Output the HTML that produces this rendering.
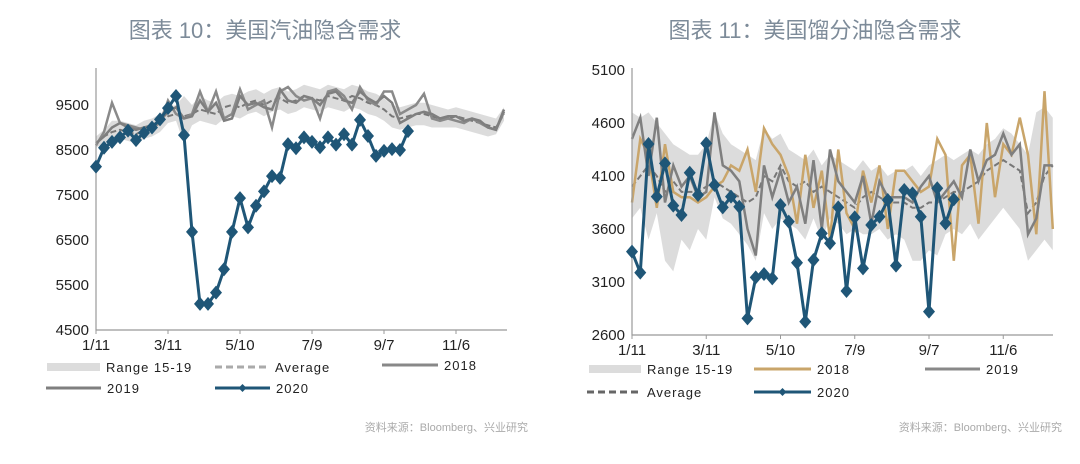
<!DOCTYPE html>
<html><head><meta charset="utf-8">
<style>
body{margin:0;background:#fff;width:1080px;height:459px;overflow:hidden;font-family:"Liberation Sans","Noto Sans CJK SC",sans-serif}
svg text{font-family:"Liberation Sans","Noto Sans CJK SC",sans-serif}
</style></head>
<body>
<svg id="svg" width="1080" height="459">
<text x="265" y="38" text-anchor="middle" font-size="22" fill="#7d8b99">图表 10：美国汽油隐含需求</text>
<text x="815" y="38" text-anchor="middle" font-size="22" fill="#7d8b99">图表 11：美国馏分油隐含需求</text>
<g id="left"></g>
<g id="right"></g>
<text x="528" y="431" text-anchor="end" font-size="11" fill="#aaa">资料来源：Bloomberg、兴业研究</text>
<text x="1062" y="431" text-anchor="end" font-size="11" fill="#aaa">资料来源：Bloomberg、兴业研究</text>
</svg>
<script>
const xTickLabels = ["1/11","3/11","5/10","7/9","9/7","11/6"];
const xTickIdx = [0,9,18,27,36,45];
const L_yTicks = [4500,5500,6500,7500,8500,9500];
const L_low = [8550,8650,8700,8750,8700,8650,8750,8800,8900,9100,9150,8650,9050,9150,9100,9050,9200,9250,9200,9300,9350,9250,9350,9400,9300,9350,9450,9400,9350,9450,9400,9350,9450,9400,9300,9250,9150,9000,8950,9000,9050,9050,9000,9000,9000,9000,8950,8900,8850,8800,8850,9150];
const L_high = [8800,8950,9150,9150,9100,9050,9150,9200,9300,9450,9500,9700,9500,9700,9600,9550,9700,9750,9700,9800,9850,9750,9850,9900,9800,9850,9950,9900,9850,9950,9900,9850,9950,9900,9800,9750,9650,9500,9450,9500,9550,9550,9500,9450,9400,9450,9400,9350,9300,9250,9200,9450];
const L_avg = [8650,8800,8900,8950,8900,8850,8950,9000,9100,9250,9300,9250,9300,9400,9350,9300,9450,9500,9450,9550,9600,9500,9600,9650,9550,9600,9700,9650,9600,9700,9650,9600,9700,9650,9550,9500,9400,9250,9200,9250,9300,9300,9250,9200,9200,9250,9200,9150,9100,9050,9000,9300];
const L_2018 = [8600,8900,9550,9100,9050,9000,8950,9000,9100,9600,9300,9200,9300,9800,9350,9800,9200,9300,9850,9400,9500,9600,9000,9800,9900,9700,9600,9650,9200,9800,9850,9700,9400,9900,9600,9500,9800,9800,9300,9400,9500,9750,9200,9150,9200,9150,9100,9200,9100,9000,8950,9350];
const L_2019 = [8650,8800,9000,9100,9000,8950,9000,9050,9150,9350,9450,9200,9250,9600,9350,9550,9150,9200,9700,9500,9550,9450,9400,9850,9600,9550,9700,9650,9500,9750,9800,9600,9550,9800,9650,9550,9700,9550,9100,9200,9300,9350,9300,9200,9250,9250,9150,9200,9150,9000,8950,9400];
const L_2020 = [8130,8550,8680,8780,8930,8720,8880,9000,9180,9430,9700,8830,6680,5080,5080,5330,5850,6680,7430,6780,7260,7580,7920,7880,8630,8540,8780,8680,8560,8780,8620,8850,8620,9170,8810,8370,8480,8520,8500,8920];

const R_yTicks = [2600,3100,3600,4100,4600,5100];
const R_low = [3700,3800,3500,3750,3300,3200,3500,3400,3600,3500,3900,3700,3650,3550,3450,3300,3750,3600,3700,3650,3600,3500,3700,3500,3700,3650,3550,3600,3550,3550,3600,3500,3550,3500,3300,3300,3400,3350,3550,3600,3550,3650,3500,3600,3700,3800,3700,3600,3300,3400,3500,3400];
const R_high = [4700,4650,4700,4600,4500,4400,4350,4300,4300,4400,4700,4500,4400,4350,4300,4250,4550,4450,4500,4350,4300,4250,4350,4200,4300,4250,4200,4150,4250,4150,4200,4100,4150,4150,4200,4100,4200,4250,4300,4250,4300,4350,4300,4400,4450,4550,4500,4400,4300,4700,4750,4650];
const R_avg = [4000,4100,4200,4100,3950,4050,3950,3950,3950,4000,4050,4000,3950,3900,3850,3900,4100,4050,4200,4050,4000,4050,3950,4000,3950,3900,3850,3800,3900,3950,3900,3850,3850,3850,3800,3800,3850,3850,3900,3950,3950,4000,4050,4150,4200,4250,4200,4150,3750,3850,4100,4200];
const R_2018 = [3850,4450,4300,3800,4400,3950,3900,3900,3850,3900,4000,4050,4200,4150,4350,3950,4550,4400,4300,4100,3650,4300,3800,4150,3500,4350,3750,3600,4150,3850,4200,3600,4150,4150,4050,3950,4000,4450,4300,3300,4200,4300,3650,4600,3900,4400,4300,4650,4300,3550,4900,3600];
const R_2019 = [4450,4650,4100,4650,3850,4200,4000,4100,3900,3950,4700,4200,4150,4050,3600,3350,4200,3900,4150,3850,4000,3650,4250,3600,4350,4050,3950,3850,4100,3650,4050,3900,3900,3900,3850,4000,4100,3850,3950,4050,3900,4350,4050,4250,4300,4500,4300,4400,3550,3700,4200,4200];
const R_2020 = [3386,3188,4402,3905,4219,3820,3732,4131,3921,4408,4015,3804,3905,3810,2757,3144,3175,3134,3826,3669,3282,2726,3307,3559,3465,3804,3015,3710,3229,3638,3716,3873,3254,3968,3936,3716,2820,3984,3653,3880];

const NS="http://www.w3.org/2000/svg";
function mk(parent,tag,attrs){const e=document.createElementNS(NS,tag);for(const k in attrs)e.setAttribute(k,attrs[k]);parent.appendChild(e);return e;}

function chart(g,cfg){
  const xs=i=>cfg.x0+i*cfg.step;
  const ys=v=>cfg.yBot-(v-cfg.yMin)/(cfg.yMax-cfg.yMin)*(cfg.yBot-cfg.yTop);
  const pts=a=>a.map((v,i)=>xs(i).toFixed(1)+","+ys(v).toFixed(1)).join(" ");
  // range band
  let poly=cfg.high.map((v,i)=>xs(i)+","+ys(v));
  poly=poly.concat(cfg.low.map((v,i)=>xs(i)+","+ys(v)).reverse());
  const band=mk(g,"polygon",{points:poly.join(" "),fill:"#dcdcdc"});
  
  
  const avg=mk(g,"polyline",{points:pts(cfg.avg),fill:"none",stroke:"#777","stroke-width":2,"stroke-dasharray":"6,3"});
  
  
  const s18=mk(g,"polyline",{points:pts(cfg.s2018),fill:"none",stroke:cfg.c2018,"stroke-width":2.5});
  
  
  const s19=mk(g,"polyline",{points:pts(cfg.s2019),fill:"none",stroke:"#7f7f7f","stroke-width":2.5});
  
  
  // axes
  const ax=mk(g,"path",{d:`M${cfg.x0},${cfg.yTop-2}V${cfg.yBot}H${cfg.xEnd}`,stroke:"#999",fill:"none","stroke-width":1.2});
  
  
  cfg.yTicks.forEach(v=>{
    const t=mk(g,"text",{x:cfg.x0-7,y:ys(v)+5,"text-anchor":"end","font-size":15,fill:"#222"});
    t.textContent=v;
    
    
  });
  xTickIdx.forEach((idx,k)=>{
    mk(g,"line",{x1:xs(idx),x2:xs(idx),y1:cfg.yBot,y2:cfg.yBot+4,stroke:"#999"});
    const t=mk(g,"text",{x:xs(idx),y:cfg.yBot+20,"text-anchor":"middle","font-size":15,fill:"#222"});
    t.textContent=xTickLabels[k];
    
    
  });
  const s20=mk(g,"polyline",{points:pts(cfg.s2020),fill:"none",stroke:"#1f5677","stroke-width":3});
  
  
  cfg.s2020.forEach((v,i)=>{
    const x=xs(i),y=ys(v);
    const d=mk(g,"polygon",{points:`${x},${y-7} ${x+6},${y} ${x},${y+7} ${x-6},${y}`,fill:"#1f5677"});
    
    
  });
}
function legend(g,items){
  items.forEach(it=>{
    const lg=mk(g,"g",{});
    
    
    if(it.t==="band") mk(lg,"rect",{x:it.x,y:it.y-4,width:it.w,height:8,fill:"#dcdcdc"});
    else {
      const a={x1:it.x,x2:it.x+it.w,y1:it.y,y2:it.y,stroke:it.c,"stroke-width":3};
      if(it.t==="dash")a["stroke-dasharray"]="7,4";
      mk(lg,"line",a);
      if(it.t==="dia"){const x=it.x+it.w/2;mk(lg,"polygon",{points:`${x},${it.y-4} ${x+4},${it.y} ${x},${it.y+4} ${x-4},${it.y}`,fill:it.c});}
    }
    const t=mk(lg,"text",{x:it.x+it.w+6,y:it.y+5,"font-size":13,fill:"#222","letter-spacing":"1"});
    t.textContent=it.label;
  });
}
chart(document.getElementById("left"),{x0:96,step:8,xEnd:507,yTop:70,yBot:330,yMin:4500,yMax:10278,
  yTicks:L_yTicks,low:L_low,high:L_high,avg:L_avg,s2018:L_2018,s2019:L_2019,s2020:L_2020,c2018:"#8a8a8a"});
chart(document.getElementById("right"),{x0:632,step:8.25,xEnd:1053,yTop:70,yBot:335,yMin:2600,yMax:5100,
  yTicks:R_yTicks,low:R_low,high:R_high,avg:R_avg,s2018:R_2018,s2019:R_2019,s2020:R_2020,c2018:"#c9a56a"});
legend(document.getElementById("left"),[
 {t:"band",x:47,y:367,w:53,label:"Range 15-19"},
 {t:"dash",x:215,y:367,w:54,c:"#aaa",label:"Average"},
 {t:"line",x:382,y:365,w:56,c:"#888",label:"2018"},
 {t:"line",x:46,y:388,w:55,c:"#7f7f7f",label:"2019"},
 {t:"dia",x:215,y:388,w:55,c:"#1f5677",label:"2020"}]);
legend(document.getElementById("right"),[
 {t:"band",x:589,y:369,w:52,label:"Range 15-19"},
 {t:"line",x:754,y:369,w:57,c:"#c9a56a",label:"2018"},
 {t:"line",x:925,y:369,w:55,c:"#888",label:"2019"},
 {t:"dash",x:587,y:392,w:54,c:"#666",label:"Average"},
 {t:"dia",x:754,y:392,w:57,c:"#1f5677",label:"2020"}]);
</script>
</body></html>
